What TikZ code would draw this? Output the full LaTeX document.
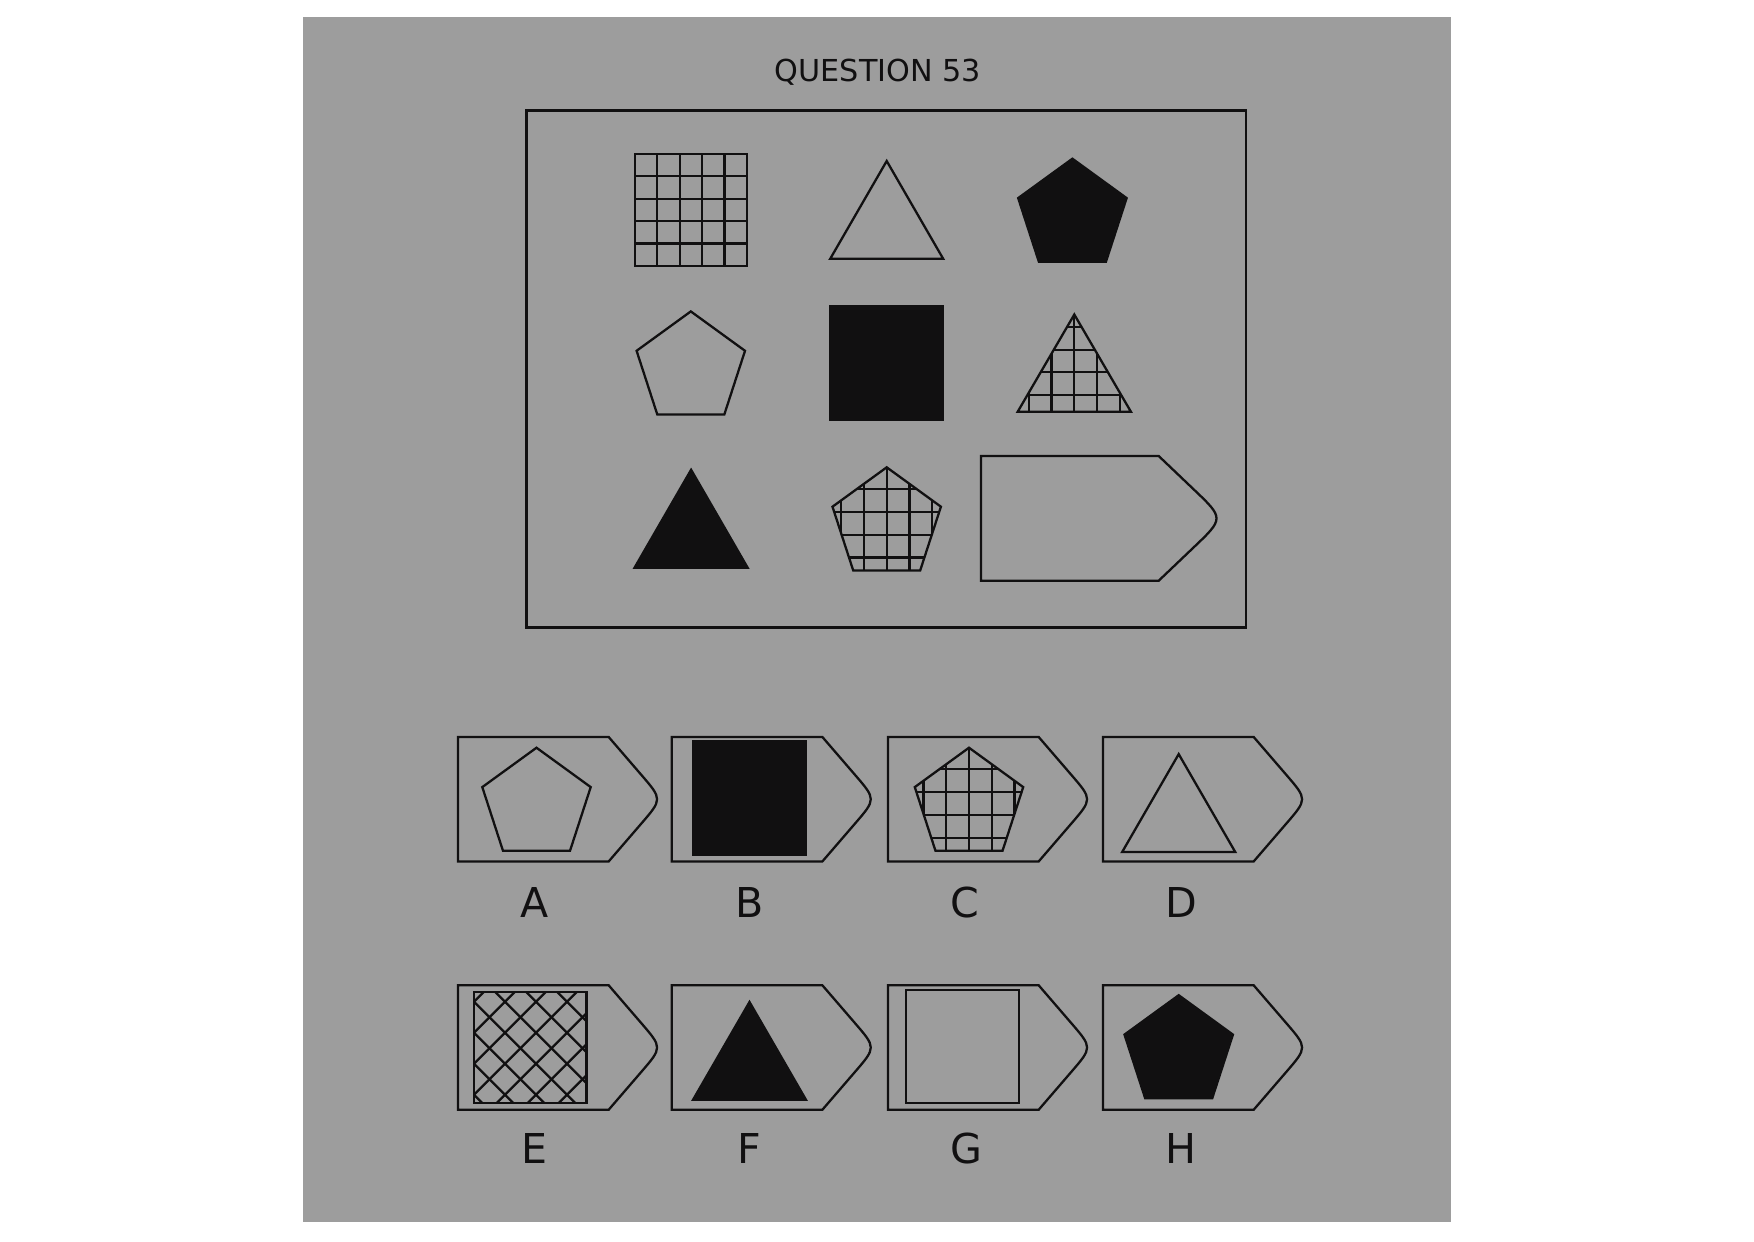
\documentclass[tikz,border=0pt]{standalone}
\usepackage{fontspec}
\setmainfont{DejaVu Sans}
\usetikzlibrary{calc}

\definecolor{panel}{RGB}{157,157,157}
\definecolor{ink}{RGB}{17,16,17}

\tikzset{
  fig/.style={draw=ink, line width=0.65pt, line join=miter},
  blackfill/.style={fill=ink},
  letter/.style={anchor=base, text=ink, inner sep=0pt, font=\fontsize{11.7}{14}\selectfont},
}

% Shapes, all centred on (#1,#2)
\newcommand{\pentshape}[3]{\draw[fig, #3, shift={(#1,#2)}] (-90:57) -- (-18:57) -- (54:57) -- (126:57) -- (198:57) -- cycle;}
\newcommand{\trishape}[3]{\draw[fig, #3, shift={(#1,#2)}] (0,-48.9) -- (56.5,48.9) -- (-56.5,48.9) -- cycle;}
\newcommand{\sqshape}[3]{\draw[fig, #3, shift={(#1,#2)}] (-56.5,-56.5) rectangle (56.5,56.5);}

\newcommand{\gridsquare}[2]{%
  \begin{scope}[shift={(#1,#2)}]
    \foreach \t in {1,...,4}
      \draw[fig] (-56.2+22.48*\t,-56.2) -- (-56.2+22.48*\t,56.2)
                 (-56.2,-56.2+22.48*\t) -- (56.2,-56.2+22.48*\t);
    \draw[fig] (-56.2,-56.2) rectangle (56.2,56.2);
  \end{scope}}

\newcommand{\gridpent}[2]{%
  \begin{scope}[shift={(#1,#2)}]
    \begin{scope}
      \clip (-90:57) -- (-18:57) -- (54:57) -- (126:57) -- (198:57) -- cycle;
      \foreach \u in {-45.6,-22.8,0,22.8,45.6}
        \draw[fig] (\u,-60) -- (\u,60);
      \foreach \v in {-35.4,-12.5,10.4,33.3}
        \draw[fig] (-60,\v) -- (60,\v);
    \end{scope}
    \draw[fig] (-90:57) -- (-18:57) -- (54:57) -- (126:57) -- (198:57) -- cycle;
  \end{scope}}

\newcommand{\gridtri}[2]{%
  \begin{scope}[shift={(#1,#2)}]
    \begin{scope}
      \clip (0,-48.6) -- (56.6,48.6) -- (-56.6,48.6) -- cycle;
      \foreach \u in {-45.4,-22.7,0,22.7,45.4}
        \draw[fig] (\u,-50) -- (\u,50);
      \foreach \v in {-36,-13.4,9.2,31.8}
        \draw[fig] (-60,\v) -- (60,\v);
    \end{scope}
    \draw[fig] (0,-48.6) -- (56.6,48.6) -- (-56.6,48.6) -- cycle;
  \end{scope}}

\newcommand{\crosssquare}[2]{%
  \begin{scope}[shift={(#1,#2)}]
    \begin{scope}
      \clip (-56.2,-55.5) rectangle (56.2,55.5);
      \foreach \k in {0,...,7} {
        \draw[fig] (-101.7+31*\k+70,-70) -- (-101.7+31*\k-70,70);
        \draw[fig] (-10.7+31*\k-124-70,-70) -- (-10.7+31*\k-124+70,70);
      }
    \end{scope}
    \draw[fig] (-56.2,-55.5) rectangle (56.2,55.5);
  \end{scope}}

% Tag: left, top, corner x, sharp tip x, height, rounding
\newcommand{\drawtag}[6]{%
  \begin{scope}[shift={(#1,#2)}]
    \coordinate (tip) at (#4,#5/2);
    \draw[fig] (0,0) -- (#3,0) -- ($(tip)!#6!(#3,0)$) .. controls (tip) .. ($(tip)!#6!(#3,#5)$)
      -- (#3,#5) -- (0,#5) -- cycle;
  \end{scope}}

\begin{document}
\begin{tikzpicture}[x=0.01cm, y=-0.01cm]
    \useasboundingbox (0,0) rectangle (1754,1241);
    \fill[panel] (303,17) rectangle (1451,1222);

    % Title
    \node[anchor=base, text=ink, inner sep=0pt, font=\fontsize{8.6}{10}\selectfont] (title) at (878,81.7) {QUESTION 53};

    % Puzzle frame
    \draw[fig] (526.5,110.5) rectangle (1246,627.5);

    % Row 1
    \gridsquare{690.9}{209.9}
    \trishape{886.7}{209.9}{}
    \pentshape{1072.4}{215.7}{blackfill}

    % Row 2
    \pentshape{690.8}{368.4}{}
    \sqshape{886.7}{363.1}{blackfill}
    \gridtri{1074.3}{363.1}

    % Row 3
    \trishape{691.1}{518.7}{blackfill}
    \gridpent{886.7}{524.3}
    \drawtag{981}{456}{177.7}{243.1}{124.7}{0.42cm}

    % Answer tags
    \foreach \l in {458,671.7,888,1103} {
      \drawtag{\l}{737}{150.7}{204.3}{124.4}{0.32cm}
      \drawtag{\l}{985.3}{150.7}{204.3}{124.4}{0.32cm}
    }

    % Answer shapes
    \pentshape{536.5}{804.7}{}
    \sqshape{749.5}{798}{blackfill}
    \gridpent{969}{804.7}
    \trishape{1178.7}{803}{}
    \crosssquare{530.2}{1047.2}
    \trishape{749.5}{1050.9}{blackfill}
    \sqshape{962.2}{1046.5}{}
    \pentshape{1178.7}{1052.2}{blackfill}

    % Answer letters
    \node[letter] (labelA) at (535,917.3) {A};
    \node[letter] (labelB) at (750,917.3) {B};
    \node[letter] (labelC) at (965,917.3) {C};
    \node[letter] (labelD) at (1181,917.3) {D};
    \node[letter] (labelE) at (534,1163.3) {E};
    \node[letter] (labelF) at (749,1163.3) {F};
    \node[letter] (labelG) at (966,1163.3) {G};
    \node[letter] (labelH) at (1181,1163.3) {H};
\end{tikzpicture}
\end{document}
